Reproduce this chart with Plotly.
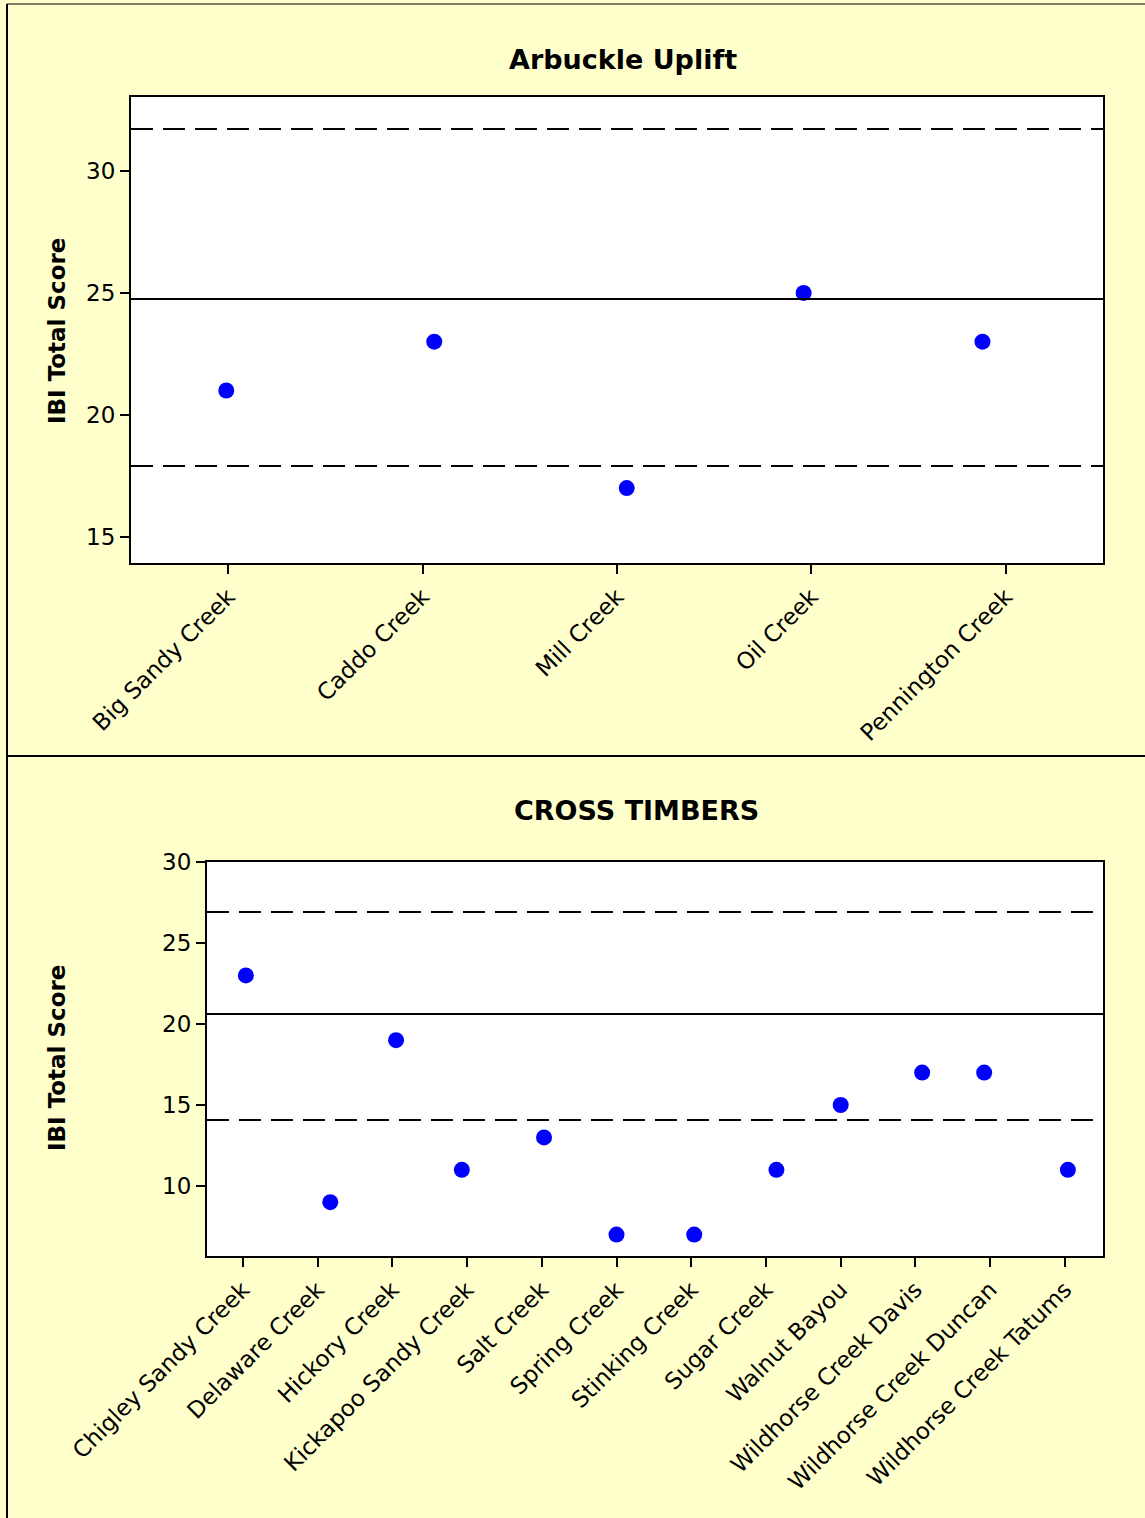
import plotly.graph_objects as go

# ---------------------------------------------------------
# Data
# ---------------------------------------------------------
arbuckle_sites = ["Big Sandy Creek", "Caddo Creek", "Mill Creek", "Oil Creek", "Pennington Creek"]
arbuckle_scores = [21, 23, 17, 25, 23]
arbuckle_jitter = [-0.01, 0.06, 0.05, -0.04, -0.12]
arbuckle_mean = 24.75
arbuckle_upper = 31.72
arbuckle_lower = 17.91

cross_sites = [
    "Chigley Sandy Creek", "Delaware Creek", "Hickory Creek", "Kickapoo Sandy Creek",
    "Salt Creek", "Spring Creek", "Stinking Creek", "Sugar Creek", "Walnut Bayou",
    "Wildhorse Creek Davis", "Wildhorse Creek Duncan", "Wildhorse Creek Tatums",
]
cross_scores = [23, 9, 19, 11, 13, 7, 7, 11, 15, 17, 17, 11]
cross_jitter = [0.04, 0.17, 0.05, -0.07, 0.03, 0.0, 0.04, 0.14, 0.0, 0.09, -0.08, 0.04]
cross_mean = 20.62
cross_upper = 26.91
cross_lower = 14.07

W, H = 1145, 1518
BG = "#FFFFCC"
FONT = "DejaVu Sans"


def px_x(v):
    return v / W


def px_y(v):
    return 1 - v / H


fig = go.Figure()

fig.add_trace(go.Scatter(
    x=[i + j for i, j in enumerate(arbuckle_jitter)], y=arbuckle_scores,
    mode="markers", marker=dict(color="#0000FF", size=16),
    xaxis="x", yaxis="y", showlegend=False,
))
fig.add_trace(go.Scatter(
    x=[i + j for i, j in enumerate(cross_jitter)], y=cross_scores,
    mode="markers", marker=dict(color="#0000FF", size=16),
    xaxis="x2", yaxis="y2", showlegend=False,
))

axis_common = dict(
    showline=True, mirror=True, linecolor="black", linewidth=2,
    ticks="outside", ticklen=9, tickwidth=2, tickcolor="black",
    showgrid=False, zeroline=False, automargin=False,
    tickfont=dict(family=FONT, size=23, color="black"),
)

fig.update_layout(
    width=W, height=H,
    margin=dict(l=0, r=0, t=0, b=0),
    paper_bgcolor=BG, plot_bgcolor="white",
    font=dict(family=FONT, color="black"),
    xaxis=dict(
        domain=[px_x(131), px_x(1103)], anchor="y",
        range=[-0.5, 4.5], tickvals=list(range(len(arbuckle_sites))),
        ticktext=arbuckle_sites, tickangle=-45, **axis_common,
    ),
    yaxis=dict(
        domain=[px_y(563), px_y(97)], anchor="x",
        range=[13.93, 33.03], tickvals=[15, 20, 25, 30], **axis_common,
    ),
    xaxis2=dict(
        domain=[px_x(207), px_x(1103)], anchor="y2",
        range=[-0.48, 11.51], tickvals=list(range(len(cross_sites))),
        ticktext=cross_sites, tickangle=-45, **axis_common,
    ),
    yaxis2=dict(
        domain=[px_y(1256), px_y(862)], anchor="x2",
        range=[5.68, 30], tickvals=[10, 15, 20, 25, 30], **axis_common,
    ),
)

# reference lines: mean (solid) and limits (dashed)
for xr, yr, mean, up, lo in [
    ("x domain", "y", arbuckle_mean, arbuckle_upper, arbuckle_lower),
    ("x2 domain", "y2", cross_mean, cross_upper, cross_lower),
]:
    fig.add_shape(type="line", xref=xr, yref=yr, x0=0, x1=1, y0=mean, y1=mean,
                  line=dict(color="black", width=2))
    for v in (up, lo):
        fig.add_shape(type="line", xref=xr, yref=yr, x0=0, x1=1, y0=v, y1=v,
                      line=dict(color="black", width=2, dash="22px,10px"))

# panel frame lines
frame = dict(color="black", width=2)
fig.add_shape(type="line", xref="paper", yref="paper",
              x0=px_x(7), x1=px_x(7), y0=0, y1=px_y(4), line=frame)
fig.add_shape(type="line", xref="paper", yref="paper",
              x0=px_x(7), x1=1, y0=px_y(4), y1=px_y(4), line=dict(color="black", width=1))
fig.add_shape(type="line", xref="paper", yref="paper",
              x0=px_x(7), x1=1, y0=px_y(756), y1=px_y(756), line=frame)

# titles
for text, cx, cy in [("Arbuckle Uplift", 623, 60), ("CROSS TIMBERS", 636, 811)]:
    fig.add_annotation(text=f"<b>{text}</b>", xref="paper", yref="paper",
                       x=px_x(cx), y=px_y(cy), xanchor="center", yanchor="middle",
                       showarrow=False, font=dict(family=FONT, size=27, color="black"))

for cy in (331, 1058):
    fig.add_annotation(text="<b>IBI Total Score</b>", xref="paper", yref="paper",
                       x=px_x(57), y=px_y(cy), xanchor="center", yanchor="middle",
                       showarrow=False, textangle=-90,
                       font=dict(family=FONT, size=23, color="black"))

fig.write_html(
    "out.html",
    config={"displayModeBar": False},
    post_script="document.body.style.margin='0';document.body.style.overflow='hidden';",
)
